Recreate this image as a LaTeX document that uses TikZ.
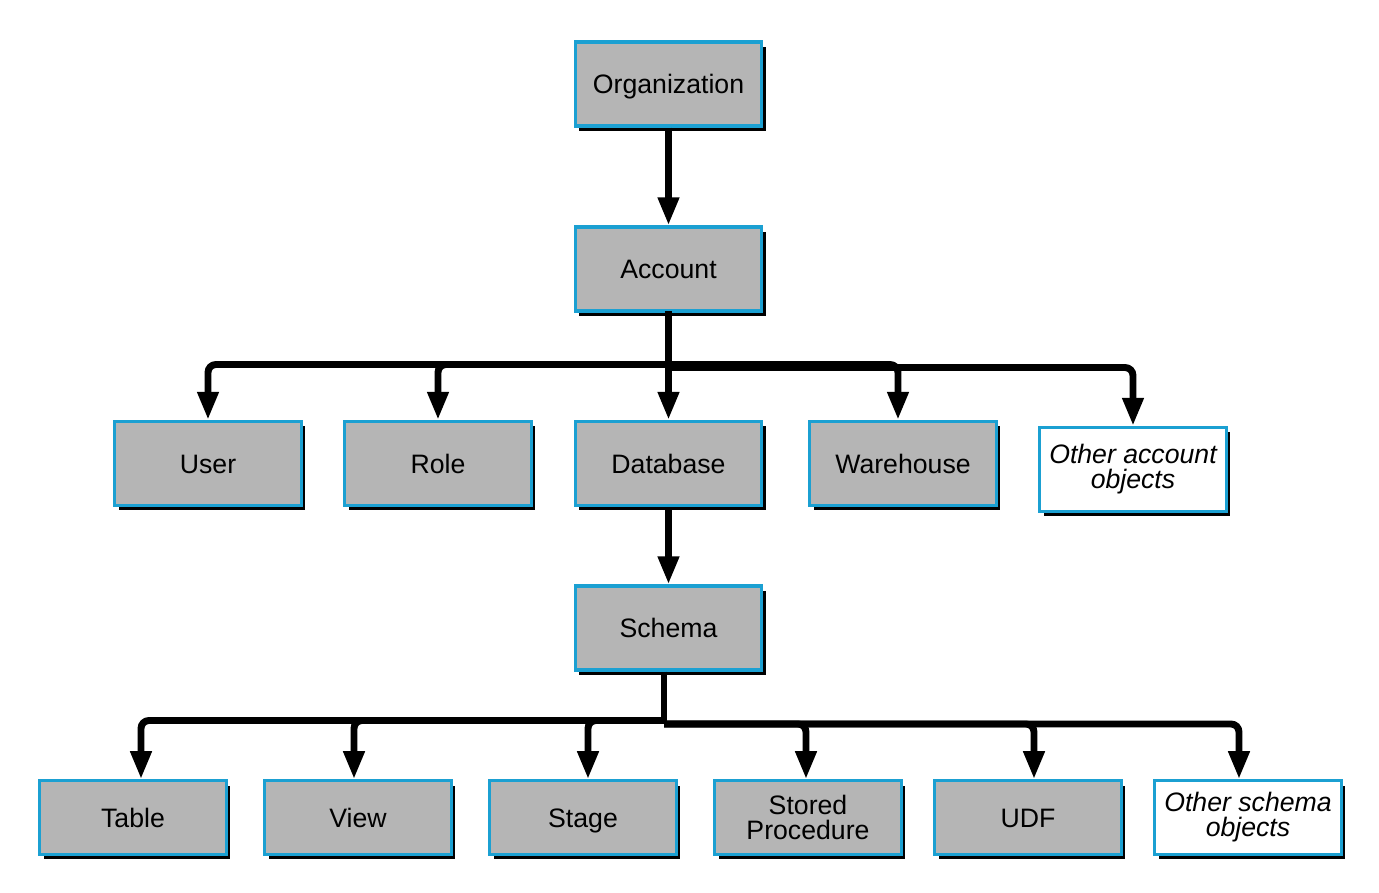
\documentclass[tikz,border=0pt]{standalone}
\usepackage{fontspec}
\setmainfont{Liberation Sans}
\usetikzlibrary{arrows.meta,shadows}
\definecolor{boxblue}{RGB}{27,160,210}
\definecolor{boxgray}{RGB}{181,181,181}
\tikzset{
  obj/.style={draw=boxblue, line width=2.4pt, fill=boxgray, minimum width=140pt, minimum height=63pt,
    inner sep=0pt, align=center, font=\fontsize{20}{18.75}\selectfont,
    drop shadow={shadow xshift=3pt, shadow yshift=-3.5pt, fill=black, opacity=1}},
  one/.style={text height=14.3pt, text depth=0pt},
  objlow/.style={obj, minimum height=55pt},
  other/.style={fill=white, font=\fontsize{20}{18.75}\selectfont\itshape},
  arr/.style={line width=5.2pt, rounded corners=6pt, -{Triangle[width=15pt,length=21pt]}},
  ln/.style={line width=5.2pt}
}
\begin{document}
\begin{tikzpicture}[x=0.75pt,y=-0.75pt]
\useasboundingbox (0,0) rectangle (1379,893);
% nodes
\node[obj,one] (org) at (668.5,84) {Organization};
\node[obj,one] (acc) at (668.5,269) {Account};
\node[obj,one] (user) at (208,463.5) {User};
\node[obj,one] (role) at (438,463.5) {Role};
\node[obj,one] (db) at (668.5,463.5) {Database};
\node[obj,one] (wh) at (903,463.5) {Warehouse};
\node[obj,other] (oao) at (1133,469.5) {Other account\\objects};
\node[obj,one] (sch) at (668.5,628) {Schema};
\node[objlow,one] (tab) at (133,817.5) {Table};
\node[objlow,one] (view) at (358,817.5) {View};
\node[objlow,one] (stage) at (583,817.5) {Stage};
\node[objlow] (sp) at (808,817.5) {Stored\\Procedure};
\node[objlow,one] (udf) at (1028,817.5) {UDF};
\node[objlow,other] (oso) at (1248,817.5) {Other schema\\objects};
% junctions
\coordinate (aj) at (668.5,364.5);
\coordinate (aj2) at (668.5,367.5);
\coordinate (sj) at (664,720.5);
\coordinate (sj2) at (664,724);
% connectors
\draw[arr] (org.south) -- (acc.north);
\draw[ln] ([yshift=1pt]acc.south) -- (aj2);
\draw[arr] (aj) -| (user.north);
\draw[arr] (aj) -| (role.north);
\draw[arr] (acc.south) -- (db.north);
\draw[arr] (aj) -| ([xshift=-3.75pt]wh.north);
\draw[arr] (aj2) -| (oao.north);
\draw[arr] (db.south) -- (sch.north);
\draw[ln] (sch.south -| sj) -- (sj2);
\draw[arr] (sj) -| ([xshift=6pt]tab.north);
\draw[arr] (sj) -| ([xshift=-3pt]view.north);
\draw[arr] (sj) -| ([xshift=3.75pt]stage.north);
\draw[arr] (sj2) -| ([xshift=-1.5pt]sp.north);
\draw[arr] (sj2) -| ([xshift=4.5pt]udf.north);
\draw[arr] (sj2) -| ([xshift=-6.75pt]oso.north);
\end{tikzpicture}
\end{document}
